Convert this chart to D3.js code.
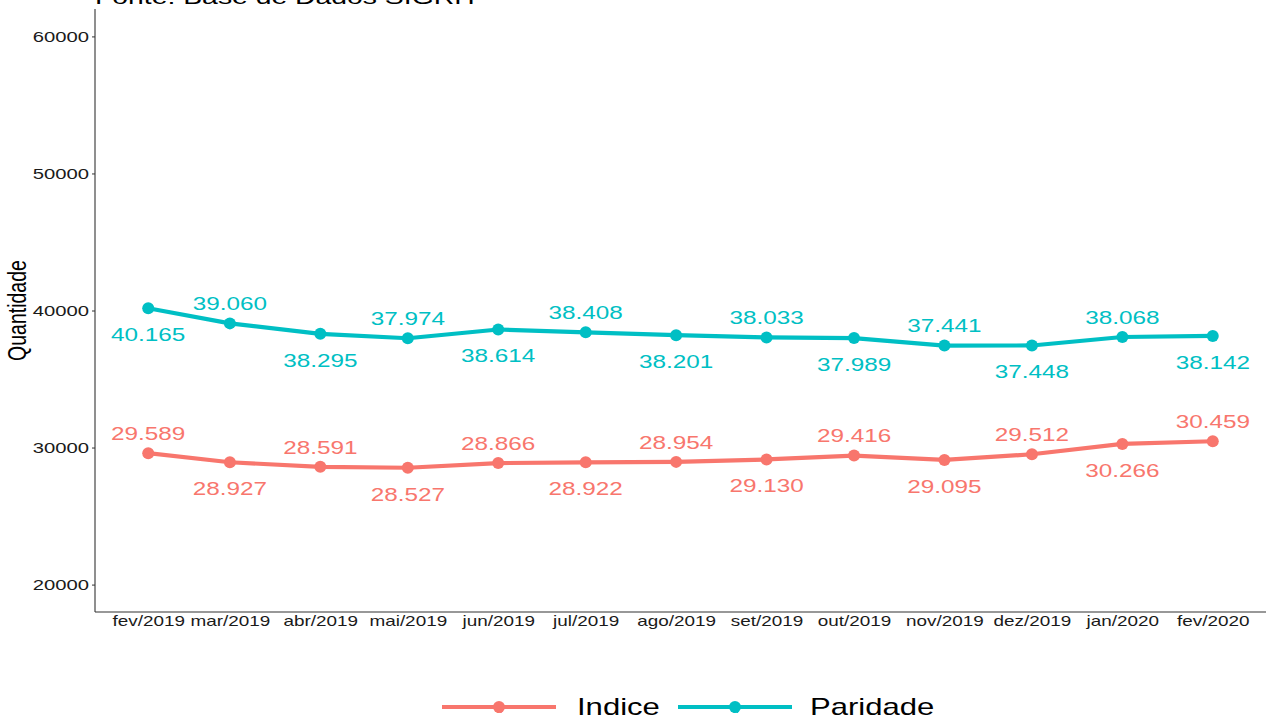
<!DOCTYPE html>
<html>
<head>
<meta charset="utf-8">
<script src="https://cdn.jsdelivr.net/npm/d3@7"></script>
<style>
  html, body { margin: 0; padding: 0; background: #fff; }
  svg { display: block; font-family: "Liberation Sans", Arial, sans-serif; }
</style>
</head>
<body>
<svg id="chart" width="1267" height="719"></svg>
<script>
// Monthly counts, fev/2019 – fev/2020
const dates = ["2019-02-01", "2019-03-01", "2019-04-01", "2019-05-01", "2019-06-01", "2019-07-01",
               "2019-08-01", "2019-09-01", "2019-10-01", "2019-11-01", "2019-12-01", "2020-01-01", "2020-02-01"];
const months = ["fev/2019", "mar/2019", "abr/2019", "mai/2019", "jun/2019", "jul/2019",
                "ago/2019", "set/2019", "out/2019", "nov/2019", "dez/2019", "jan/2020", "fev/2020"];
const indice   = [29589, 28927, 28591, 28527, 28866, 28922, 28954, 29130, 29416, 29095, 29512, 30266, 30459];
const paridade = [40165, 39060, 38295, 37974, 38614, 38408, 38201, 38033, 37989, 37441, 37448, 38068, 38142];
const yTicks = [20000, 30000, 40000, 50000, 60000];
const seriesNames = ["Indice", "Paridade"];
const seriesColors = ["#F8766D", "#00BFC4"];
const titleText = "Fonte: Base de Dados SIGRH";
const yTitle = "Quantidade";

const svg = d3.select("#chart");
const SX = 1.35; // horizontal text stretch

const ptBR = d3.formatLocale({ decimal: ",", thousands: ".", grouping: [3], currency: ["R$", ""] });
const fmt = ptBR.format(",d");

const panel = { left: 95, right: 1266, top: 9, bottom: 612 };

const parsed = dates.map(d => new Date(d + "T00:00:00Z"));
const span = parsed[parsed.length - 1] - parsed[0];
const pad = span * 0.05;
const x = d3.scaleUtc()
  .domain([new Date(+parsed[0] - pad), new Date(+parsed[parsed.length - 1] + pad)])
  .range([panel.left, panel.right]);
const y = d3.scaleLinear().domain([18000, 62000]).range([panel.bottom, panel.top]);

// stretched text helper
function stext(g, tx, ty, str, opts) {
  const t = g.append("text")
    .attr("transform", `translate(${tx},${ty}) scale(${SX},1)` + (opts.rotate ? ` rotate(${opts.rotate})` : ""))
    .attr("text-anchor", opts.anchor || "start")
    .attr("font-size", opts.size)
    .attr("fill", opts.fill || "#000")
    .text(str);
  if (opts.baseline) t.attr("dominant-baseline", opts.baseline);
  return t;
}

// title (partly above the frame)
stext(svg, panel.left, 4, titleText, { size: 21, fill: "#000" });

// y axis
const yAxis = d3.axisLeft(y).tickValues(yTicks).tickSize(3).tickFormat("");
const gy = svg.append("g").attr("transform", `translate(${panel.left},0)`).call(yAxis);
gy.select(".domain").remove();
gy.selectAll(".tick line").attr("stroke", "#333").attr("stroke-width", 1);
gy.selectAll(".tick").each(function (d) {
  stext(d3.select(this), -6, 0, d3.format("d")(d), { size: 15, anchor: "end", baseline: "central", fill: "#1a1a1a" });
});
svg.append("line")
  .attr("x1", panel.left).attr("x2", panel.left)
  .attr("y1", panel.top).attr("y2", panel.bottom)
  .attr("stroke", "#333").attr("stroke-width", 1.1);

// x axis
const xAxis = d3.axisBottom(x).tickValues(parsed).tickSize(0).tickFormat("");
const gx = svg.append("g").attr("transform", `translate(0,${panel.bottom})`).call(xAxis);
gx.select(".domain").remove();
gx.selectAll(".tick").each(function (d, i) {
  stext(d3.select(this), 0, 14, months[i], { size: 14, anchor: "middle", fill: "#1a1a1a" });
});
svg.append("line")
  .attr("x1", panel.left).attr("x2", panel.right)
  .attr("y1", panel.bottom).attr("y2", panel.bottom)
  .attr("stroke", "#333").attr("stroke-width", 1.1);

// y title
stext(svg, 26, (panel.top + panel.bottom) / 2, yTitle, { size: 19.5, anchor: "middle", rotate: -90 });

// series
const series = [
  { name: seriesNames[0], values: indice,   color: seriesColors[0], firstAbove: true },
  { name: seriesNames[1], values: paridade, color: seriesColors[1], firstAbove: false }
];

const line = d3.line().x((d, i) => x(parsed[i])).y(d => y(d));

series.forEach(s => {
  const g = svg.append("g");
  g.append("path").datum(s.values)
    .attr("d", line)
    .attr("fill", "none")
    .attr("stroke", s.color)
    .attr("stroke-width", 4.2)
    .attr("stroke-linejoin", "round");
  g.selectAll("circle").data(s.values).join("circle")
    .attr("cx", (d, i) => x(parsed[i]))
    .attr("cy", d => y(d))
    .attr("r", 6)
    .attr("fill", s.color);
  s.values.forEach((v, i) => {
    const above = (i % 2 === 0) === s.firstAbove;
    const ly = y(v) + (above ? -19 : 27);
    stext(g, x(parsed[i]), ly, fmt(v), { size: 18, anchor: "middle", baseline: "central", fill: s.color });
  });
});

// legend
const legendY = 707;
const legendItems = [
  { name: seriesNames[0], color: seriesColors[0], x0: 442, x1: 556, tx: 577 },
  { name: seriesNames[1], color: seriesColors[1], x0: 678, x1: 792, tx: 810 }
];
const lg = svg.append("g");
legendItems.forEach(it => {
  lg.append("line")
    .attr("x1", it.x0).attr("x2", it.x1)
    .attr("y1", legendY).attr("y2", legendY)
    .attr("stroke", it.color).attr("stroke-width", 4.2);
  const cx = (it.x0 + it.x1) / 2;
  lg.append("text")
    .attr("x", cx).attr("y", legendY + 6)
    .attr("text-anchor", "middle")
    .attr("font-size", 10).attr("font-weight", "bold")
    .attr("fill", it.color).text("a");
  lg.append("circle").attr("cx", cx).attr("cy", legendY).attr("r", 6).attr("fill", it.color);
  stext(lg, it.tx, legendY, it.name, { size: 23, baseline: "central", fill: "#000" });
});
</script>
</body>
</html>
